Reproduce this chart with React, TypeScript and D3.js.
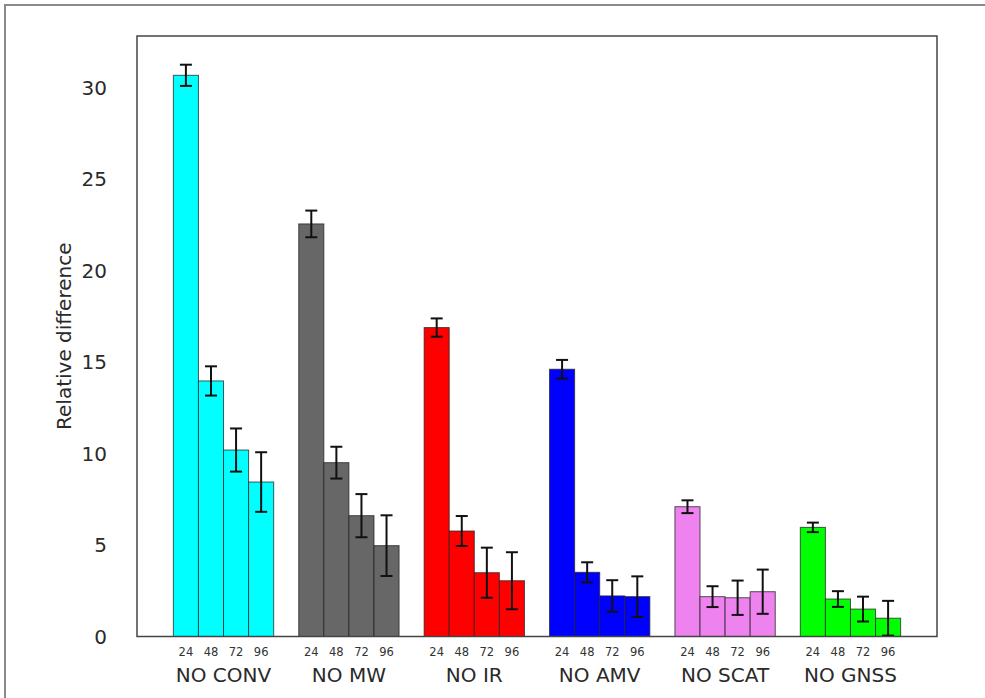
import React from "react";
import * as d3 from "d3";

const categories = ["NO CONV", "NO MW", "NO IR", "NO AMV", "NO SCAT", "NO GNSS"];
const leadTimes = ["24", "48", "72", "96"];
const colors = ["#00ffff", "#676767", "#ff0000", "#0000ff", "#ee82ee", "#00ff00"];
const values = [
  [30.7, 13.98, 10.2, 8.45],
  [22.57, 9.51, 6.61, 4.97],
  [16.9, 5.77, 3.49, 3.05],
  [14.62, 3.51, 2.22, 2.18],
  [7.1, 2.18, 2.12, 2.45],
  [5.97, 2.05, 1.5, 1.0],
];
const errors = [
  [0.58, 0.8, 1.18, 1.63],
  [0.73, 0.87, 1.18, 1.66],
  [0.5, 0.82, 1.37, 1.56],
  [0.51, 0.55, 0.86, 1.11],
  [0.35, 0.57, 0.94, 1.21],
  [0.26, 0.43, 0.68, 0.95],
];
const yTicks = [0, 5, 10, 15, 20, 25, 30];

const W = 985;
const H = 698;
const left = 137;
const right = 937;
const top = 36;
const bottom = 636.5;

export default function App() {
  const x = d3.scaleLinear().domain([-1.45, 30.45]).range([left, right]);
  const y = d3.scaleLinear().domain([0, 32.85]).range([bottom, top]);
  const font = "DejaVu Sans, sans-serif";
  const groupStart = (g: number) => g * 5;
  const capHalf = 6;

  return (
    <svg
      width={W}
      height={H}
      style={{ position: "absolute", left: 0, top: 0, background: "#fff" }}
      fontFamily={font}
    >
      <rect x={0} y={0} width={W} height={H} fill="#fff" />
      <rect x={5} y={5} width={W + 10} height={H + 10} fill="none" stroke="#8a8a8a" strokeWidth={2} />

      {categories.map((cat, g) =>
        leadTimes.map((lt, j) => {
          const x0 = x(groupStart(g) + j);
          const x1 = x(groupStart(g) + j + 1);
          const v = values[g][j];
          return (
            <rect
              key={`b-${g}-${j}`}
              x={x0}
              y={y(v)}
              width={x1 - x0}
              height={y(0) - y(v)}
              fill={colors[g]}
              stroke="#222"
              strokeOpacity={0.75}
              strokeWidth={1}
            />
          );
        })
      )}

      {categories.map((cat, g) =>
        leadTimes.map((lt, j) => {
          const cx = x(groupStart(g) + j + 0.5);
          const v = values[g][j];
          const e = errors[g][j];
          const yt = y(v + e);
          const yb = y(Math.max(0, v - e));
          return (
            <g key={`e-${g}-${j}`} stroke="#111" strokeWidth={2}>
              <line x1={cx} x2={cx} y1={yt} y2={yb} />
              <line x1={cx - capHalf} x2={cx + capHalf} y1={yt} y2={yt} />
              <line x1={cx - capHalf} x2={cx + capHalf} y1={yb} y2={yb} />
            </g>
          );
        })
      )}

      <rect
        x={left}
        y={top}
        width={right - left}
        height={bottom - top}
        fill="none"
        stroke="#444"
        strokeWidth={1.5}
      />

      {yTicks.map((t) => (
        <text
          key={`yt-${t}`}
          x={107}
          y={y(t)}
          textAnchor="end"
          dominantBaseline="central"
          fontSize={20}
          fill="#2a2a2a"
        >
          {t}
        </text>
      ))}

      {categories.map((cat, g) =>
        leadTimes.map((lt, j) => (
          <text
            key={`lt-${g}-${j}`}
            x={x(groupStart(g) + j + 0.5)}
            y={656}
            textAnchor="middle"
            fontSize={11.5}
            fill="#333"
          >
            {lt}
          </text>
        ))
      )}

      {categories.map((cat, g) => (
        <text
          key={`c-${g}`}
          x={x(groupStart(g) + 2)}
          y={681.5}
          textAnchor="middle"
          fontSize={20}
          fill="#2a2a2a"
        >
          {cat}
        </text>
      ))}

      <text
        transform={`translate(64, ${(top + bottom) / 2}) rotate(-90)`}
        textAnchor="middle"
        dominantBaseline="central"
        fontSize={20}
        fill="#2a2a2a"
      >
        Relative difference
      </text>
    </svg>
  );
}
